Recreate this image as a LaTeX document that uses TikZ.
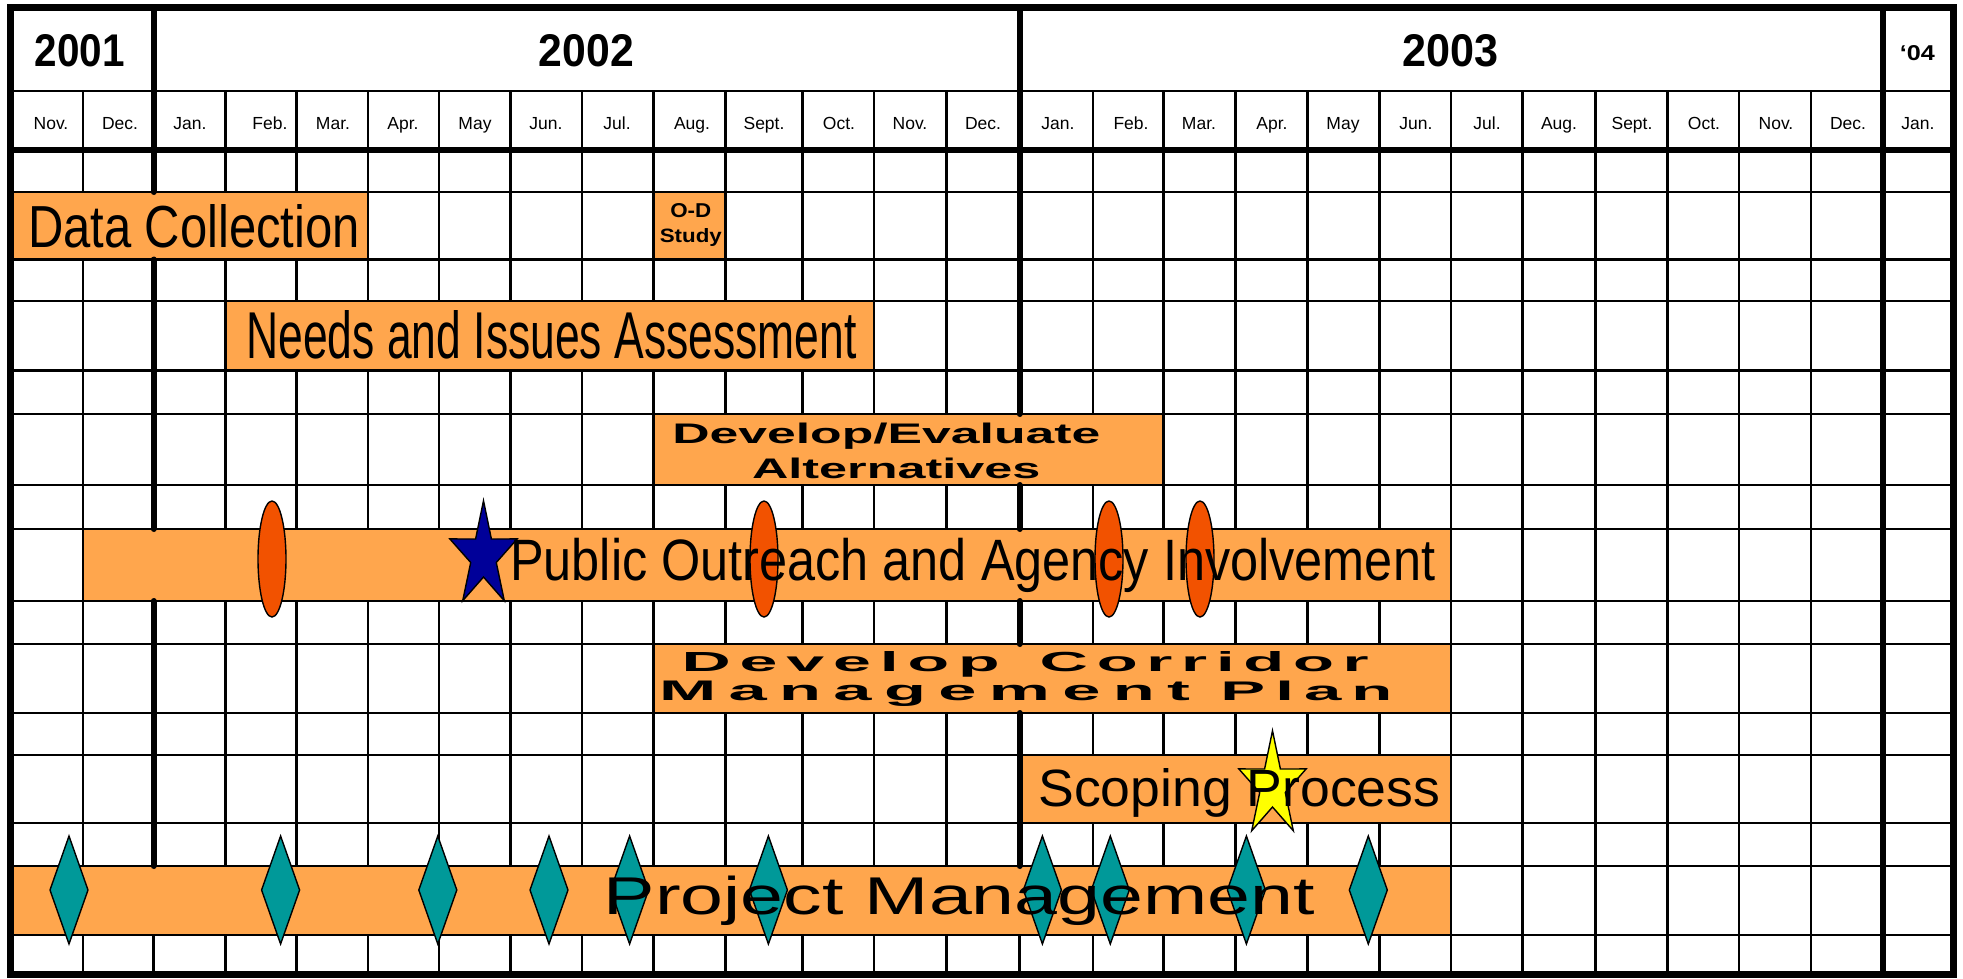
\documentclass[tikz,border=0pt]{standalone}
\usepackage{fontspec}
\setmainfont{Liberation Sans}
\usepackage{graphicx}
\definecolor{barorange}{RGB}{255,166,77}
\definecolor{redov}{RGB}{242,82,0}
\definecolor{navystar}{RGB}{0,0,153}
\definecolor{tealdia}{RGB}{0,153,153}
\definecolor{yellowstar}{RGB}{255,255,0}
\makeatletter
\def\spacedword#1#2{\def\spw@k{#1}\spw@a#2\@nil}
\def\spw@a#1{\ifx#1\@nil\unkern\else#1\kern\spw@k\relax\expandafter\spw@a\fi}
\makeatother
\tikzset{
  gridline/.style={line width=2.8pt, draw=black},
  thickline/.style={line width=6pt, draw=black, line cap=round},
  bar/.style={fill=barorange, draw=black, line width=2.8pt},
  lbl/.style={inner sep=0pt, outer sep=0pt, anchor=base},
  lblw/.style={inner sep=0pt, outer sep=0pt, anchor=base west},
  mon/.style={inner sep=0pt, anchor=base, font=\fontsize{17.5}{20}\selectfont},
  milestone/.style={draw=black, line width=1.4pt},
}
\begin{document}
\begin{tikzpicture}[x=1pt, y=-1pt]
\useasboundingbox (0,0) rectangle (1963,978);
\fill[white] (0,0) rectangle (1963,978);

% thin grid
\foreach \y in {91,192,259.5,301,370.5,414,485,529,601,644,713,755,823,866,935}
  \draw[gridline] (10,\y) -- (1953,\y);
\foreach \x in {83,153.5,225.5,296.5,368,439,510.5,582,653.5,725.5,802.5,874,946.5,1019.5,1093,1163.5,1235.5,1307.5,1379.5,1451,1522.5,1595.5,1667.5,1739,1811,1883}
  \draw[gridline] (\x,91) -- (\x,974);

% bars
\draw[bar] (10,192) rectangle (368,259.5);
\draw[bar] (653.5,192) rectangle (725.5,259.5);
\draw[bar] (225.5,301) rectangle (874,370.5);
\draw[bar] (653.5,414) rectangle (1163.5,485);
\draw[bar] (83,529) rectangle (1451,601);
\draw[bar] (653.5,644) rectangle (1451,713);
\draw[bar] (1019.5,755) rectangle (1451,823);
\draw[bar] (10,866) rectangle (1451,935);

% thick year dividers
\draw[thickline] (153.5,7) -- (153.5,192);
\draw[thickline] (153.5,259.5) -- (153.5,529);
\draw[thickline] (153.5,601) -- (153.5,866);
\draw[thickline] (1019.5,7) -- (1019.5,414);
\draw[thickline] (1019.5,485) -- (1019.5,529);
\draw[thickline] (1019.5,601) -- (1019.5,644);
\draw[thickline] (1019.5,713) -- (1019.5,866);
\draw[thickline] (1883,7) -- (1883,974);
\draw[line width=6.5pt] (10,150) -- (1953,150);

% milestones
\foreach \x in {272,764,1109,1200}
  \draw[milestone, fill=redov] (\x,559) ellipse [x radius=14, y radius=58];
\begin{scope}[shift={(483.5,556)}, xscale=0.64, yscale=-1]
  \draw[milestone, fill=navystar] (90:55.3) -- (126:21) -- (162:55.3) -- (198:21) -- (234:55.3) -- (270:21) -- (306:55.3) -- (342:21) -- (18:55.3) -- (54:21) -- cycle;
\end{scope}
\begin{scope}[shift={(1272.5,786)}, xscale=0.64, yscale=-1]
  \draw[milestone, fill=yellowstar] (90:55.3) -- (126:21) -- (162:55.3) -- (198:21) -- (234:55.3) -- (270:21) -- (306:55.3) -- (342:21) -- (18:55.3) -- (54:21) -- cycle;
\end{scope}
\foreach \x in {69,280.6,437.8,549,629.6,768.4,1042.4,1110.3,1246.4,1368.3}
  \draw[milestone, fill=tealdia] (\x,836) -- (\x+19,890) -- (\x,944) -- (\x-19,890) -- cycle;

% header
\node[lbl] (y2001) at (79.9,66.7) {\resizebox{90pt}{32pt}{\bfseries 2001}};
\node[lbl] (y2002) at (586.5,66.7) {\resizebox{95pt}{32pt}{\bfseries 2002}};
\node[lbl] (y2003) at (1450.8,66.7) {\resizebox{96pt}{32pt}{\bfseries 2003}};
\node[lbl] (y2004) at (1917.3,60) {\resizebox{35pt}{15pt}{\bfseries ‘04}};
\foreach \m/\x [count=\i] in {Nov./51,Dec./120,Jan./190,Feb./270,Mar./333,Apr./403,May/475,Jun./546,Jul./617,Aug./692,Sept./764,Oct./839,Nov./910,Dec./983,Jan./1058,Feb./1131,Mar./1199,Apr./1272,May/1343,Jun./1416,Jul./1487,Aug./1559,Sept./1632,Oct./1704,Nov./1776,Dec./1848,Jan./1918}
  \node[mon] (m\i) at (\x,129.3) {\m};

% bar labels
\node[lbl] (dc) at (194,247) {\resizebox{332pt}{43pt}{Data Collection}};
\node[lbl] (od1) at (690.8,217) {\resizebox{41pt}{14pt}{\bfseries O-D}};
\node[lbl] (od2) at (690.8,242) {\resizebox{62pt}{14pt}{\bfseries Study}};
\node[lbl] (needs) at (551.5,358) {\resizebox{610pt}{48pt}{Needs and Issues Assessment}};
\node[lbl] (dev1) at (886.3,443.3) {\resizebox{428pt}{20.5pt}{\bfseries Develop/Evaluate}};
\node[lbl] (dev2) at (896.2,478.3) {\resizebox{288pt}{20.5pt}{\bfseries Alternatives}};
\node[lbl] (pub) at (972.7,580) {\resizebox{925pt}{42.3pt}{Public Outreach and Agency Involvement}};
\node[lblw] (cor1) at (681.6,671.7) {\resizebox{318pt}{20pt}{\bfseries\spacedword{1.3pt}{Develop}}\hspace{40pt}\resizebox{329pt}{20pt}{\bfseries\spacedword{1.3pt}{Corridor}}};
\node[lblw] (cor2) at (659,700) {\resizebox{531pt}{19.5pt}{\bfseries\spacedword{1.8pt}{Management}}\hspace{30.4pt}\resizebox{172pt}{19.5pt}{\bfseries\spacedword{1.5pt}{Plan}}};
\node[lbl] (scope) at (1239.3,806.5) {\resizebox{402pt}{38pt}{Scoping Process}};
\node[lbl] (proj) at (959.3,914) {\resizebox{711pt}{38.5pt}{Project Management}};

% outer frame
\draw[line width=7pt] (10,7) rectangle (1953,974);
\end{tikzpicture}
\end{document}
